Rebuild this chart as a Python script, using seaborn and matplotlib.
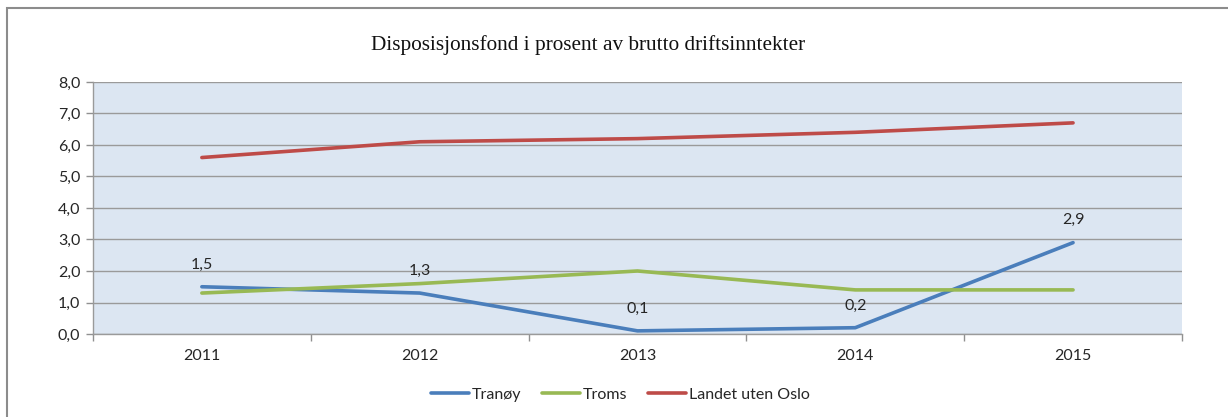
import matplotlib
matplotlib.use("Agg")
import matplotlib.pyplot as plt
import seaborn as sns
import pandas as pd
from matplotlib.patches import Rectangle

years = ["2011", "2012", "2013", "2014", "2015"]
tranoy = [1.5, 1.3, 0.1, 0.2, 2.9]
troms = [1.3, 1.6, 2.0, 1.4, 1.4]
landet = [5.6, 6.1, 6.2, 6.4, 6.7]
series_names = ["Tranøy", "Troms", "Landet uten Oslo"]
yticks = [0.0, 1.0, 2.0, 3.0, 4.0, 5.0, 6.0, 7.0, 8.0]
title = "Disposisjonsfond i prosent av brutto driftsinntekter"

colors = ["#4a7ebb", "#98b954", "#be4b48"]

rows = []
for name, vals in zip(series_names, [tranoy, troms, landet]):
    for i, (yr, v) in enumerate(zip(years, vals)):
        rows.append({"pos": i, "År": yr, "Verdi": v, "Serie": name})
df = pd.DataFrame(rows)

sns.set_theme(style="white")
plt.rcParams["font.family"] = ["Lato", "DejaVu Sans"]

fs = 11.5
fig = plt.figure(figsize=(12.28, 4.17), dpi=100)
ax = fig.add_axes([0.0757, 0.199, 0.8868, 0.6046])
ax.set_facecolor("#dce6f2")

sns.lineplot(data=df, x="pos", y="Verdi", hue="Serie", hue_order=series_names,
             palette=colors, linewidth=2.6, ax=ax, legend=True, sort=False)

ax.set_xlim(-0.5, len(years) - 0.5)
ax.set_ylim(0, 8)
ax.set_yticks(yticks)
ax.set_yticklabels([f"{v:.1f}".replace(".", ",") for v in yticks], fontsize=fs, color="#262626")
ax.set_xticks(range(len(years)))
ax.set_xticklabels(years, fontsize=fs, color="#262626")
ax.set_xticks([i - 0.5 for i in range(len(years) + 1)], minor=True)
ax.tick_params(axis="x", which="major", length=0, pad=11)
ax.tick_params(axis="x", which="minor", length=5, color="#909090", width=1, bottom=True)
ax.tick_params(axis="y", length=5, color="#909090", width=1, left=True, pad=4)
ax.set_xlabel("")
ax.set_ylabel("")

ax.yaxis.grid(True, color="#9a9a9a", linewidth=1)
ax.set_axisbelow(True)
for side in ["top", "right"]:
    ax.spines[side].set_visible(False)
for side in ["left", "bottom"]:
    ax.spines[side].set_color("#9a9a9a")
    ax.spines[side].set_linewidth(1)

# value labels on the Tranøy line
for i, v in enumerate(tranoy):
    ax.annotate(f"{v:.1f}".replace(".", ","), (i, v), xytext=(0, 11),
                textcoords="offset points", ha="center", va="bottom",
                fontsize=fs, color="#262626")

fig.text(0.479, 0.893, title, ha="center", va="center", fontsize=15.3,
         family=["Liberation Serif", "DejaVu Serif"], color="#111111")

handles, labels = ax.get_legend_handles_labels()
ax.legend_.remove()
fig.legend(handles, labels, loc="center", bbox_to_anchor=(0.505, 0.053), ncol=3,
           frameon=False, fontsize=fs, handlelength=2.4, handletextpad=0.15,
           columnspacing=1.3)

fig.patches.append(Rectangle((7 / 1228, -0.1), 1.2, 1 - 8 / 417 + 0.1,
                             transform=fig.transFigure, fill=False,
                             edgecolor="#8c8c8c", linewidth=1.5))

fig.savefig("out.png", dpi=100, facecolor="white")
